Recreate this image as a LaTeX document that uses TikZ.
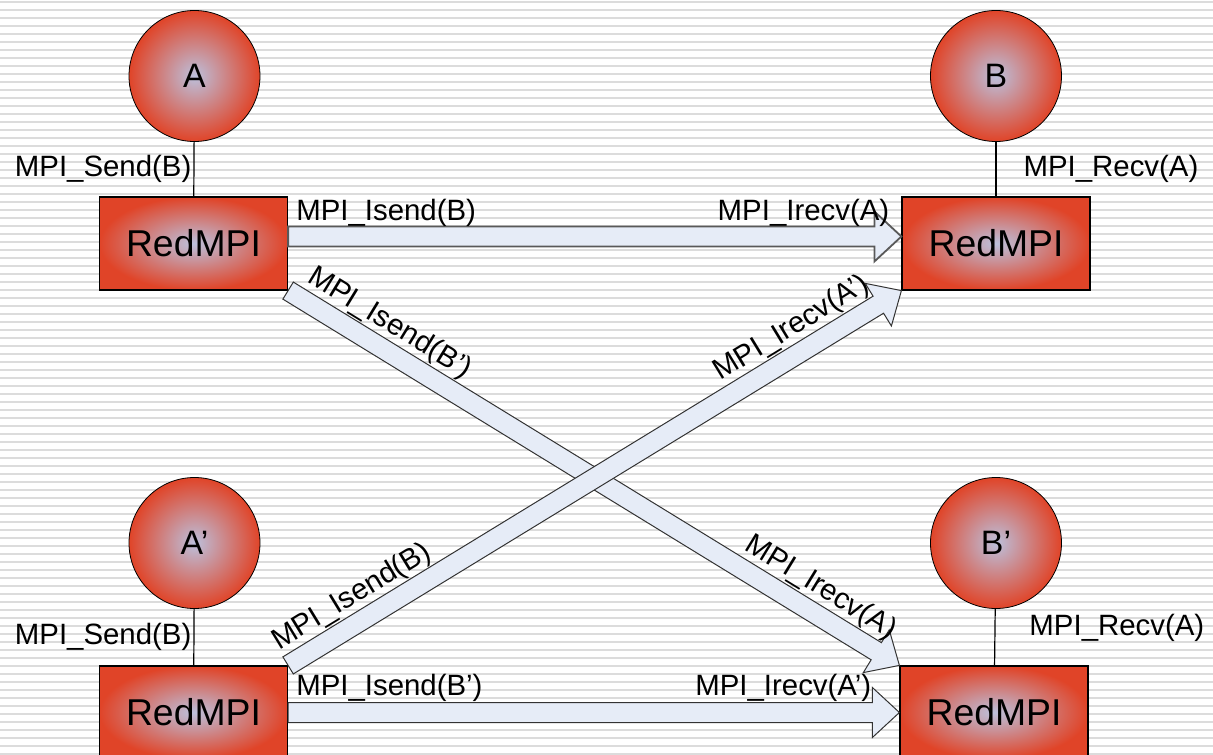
\documentclass[tikz,border=0pt]{standalone}
\usepackage{fontspec}
\setmainfont{Liberation Sans}
\usetikzlibrary{calc}
\definecolor{redfill}{HTML}{E04428}
\definecolor{lavender}{HTML}{BCC0DC}
\definecolor{arrowfill}{HTML}{E6ECF7}
\definecolor{stripe}{HTML}{DCDCDC}
\tikzset{
  proc/.style={circle, draw=black, line width=0.8bp, minimum size=131bp, inner sep=0pt,
    shading=radial, inner color=lavender, outer color=redfill, font=\fontsize{34}{34}\selectfont},
  redbox/.style={rectangle, draw=black, line width=1.2bp, minimum width=188bp, minimum height=93bp,
    shading=radial, inner color=lavender, outer color=redfill, font=\fontsize{37.5}{37.5}\selectfont},
  lbl/.style={font=\fontsize{29.5}{29.5}\selectfont, inner sep=2bp},
  slbl/.style={font=\fontsize{29.5}{29.5}\selectfont, sloped, above, inner sep=11bp},
  link/.style={draw=black, line width=1.2bp},
  barrow/.style={draw=black!80, line width=1bp, fill=arrowfill, line join=miter},
}
% block arrow from #2 to #3
\newcommand\blockarrow[3][]{%
  \path[barrow,#1] let \p1=#2, \p2=#3, \n1={atan2(\y2-\y1,\x2-\x1)}, \n2={veclen(\x2-\x1,\y2-\y1)} in
    ($(\p1)+(\n1+90:10bp)$) -- ++(\n1:{\n2-27bp}) -- ++(\n1+90:15bp) -- (\p2)
    -- ($(\p2)+(\n1+180:27bp)+(\n1-90:25bp)$) -- ++(\n1+90:15bp)
    -- ($(\p1)+(\n1-90:10bp)$) -- cycle;}
\begin{document}
\begin{tikzpicture}[x=1bp,y=-1bp]
\useasboundingbox (0,0) rectangle (1213,755);
\fill[white] (0,0) rectangle (1213,755);
\foreach \yy in {1,9,...,755} {\fill[stripe] (0,\yy) rectangle (1213,\yy+2);}
\begin{scope}
\clip (0,0) rectangle (1213,755);
% processes
\node[proc] (ca) at (194.5,76) {A};
\node[proc] (cb) at (996,76) {B};
\node[proc] (ca2) at (194.5,543) {A’};
\node[proc] (cb2) at (996,543) {B’};
% RedMPI boxes
\node[redbox] (ra) at (193.5,243.5) {RedMPI};
\node[redbox] (rb) at (996,243.5) {RedMPI};
\node[redbox] (ra2) at (193.5,712.5) {RedMPI};
\node[redbox] (rb2) at (994,712.5) {RedMPI};
% vertical links
\draw[link] (ca) -- (ra) node[lbl, midway, left] {MPI\_Send(B)};
\draw[link] (cb) -- (rb) node[lbl, midway, right, xshift=25bp] {MPI\_Recv(A)};
\draw[link] (ca2) -- (ra2) node[lbl, midway, left] {MPI\_Send(B)};
\draw[link] (cb2) -- (rb2) node[lbl, midway, right, xshift=32bp, yshift=9bp] {MPI\_Recv(A)};
% block arrows
\coordinate (as) at ($(ra.east)+(0,-7)$);
\coordinate (bs) at ($(rb.west)+(0,-7)$);
\blockarrow[draw=black!65, line width=1.8bp]{(as)}{(bs)}
\blockarrow{(ra2.east)}{(rb2.west)}
\blockarrow{(ra.south east)}{(rb2.north west)}
\blockarrow{(ra2.north east)}{(rb.south west)}
% horizontal labels
\node[lbl, anchor=base west] (l1) at ($(ra.east)+(6,-23)$) {MPI\_Isend(B)};
\node[lbl, anchor=base east] (l2) at ($(rb.west)+(-10,-23)$) {MPI\_Irecv(A)};
\node[lbl, anchor=base west] (l3) at ($(ra2.east)+(6,-17)$) {MPI\_Isend(B’)};
\node[lbl, anchor=base east] (l4) at ($(rb2.west)+(-26,-17)$) {MPI\_Irecv(A’)};
% diagonal labels
\path (ra.south east) -- (rb2.north west)
  node[slbl, pos=0.145] {MPI\_Isend(B’)}
  node[slbl, pos=0.85] {MPI\_Irecv(A)};
\path (ra2.north east) -- (rb.south west)
  node[slbl, pos=0.125] {MPI\_Isend(B)}
  node[slbl, pos=0.842] {MPI\_Irecv(A’)};
\end{scope}
\end{tikzpicture}
\end{document}
